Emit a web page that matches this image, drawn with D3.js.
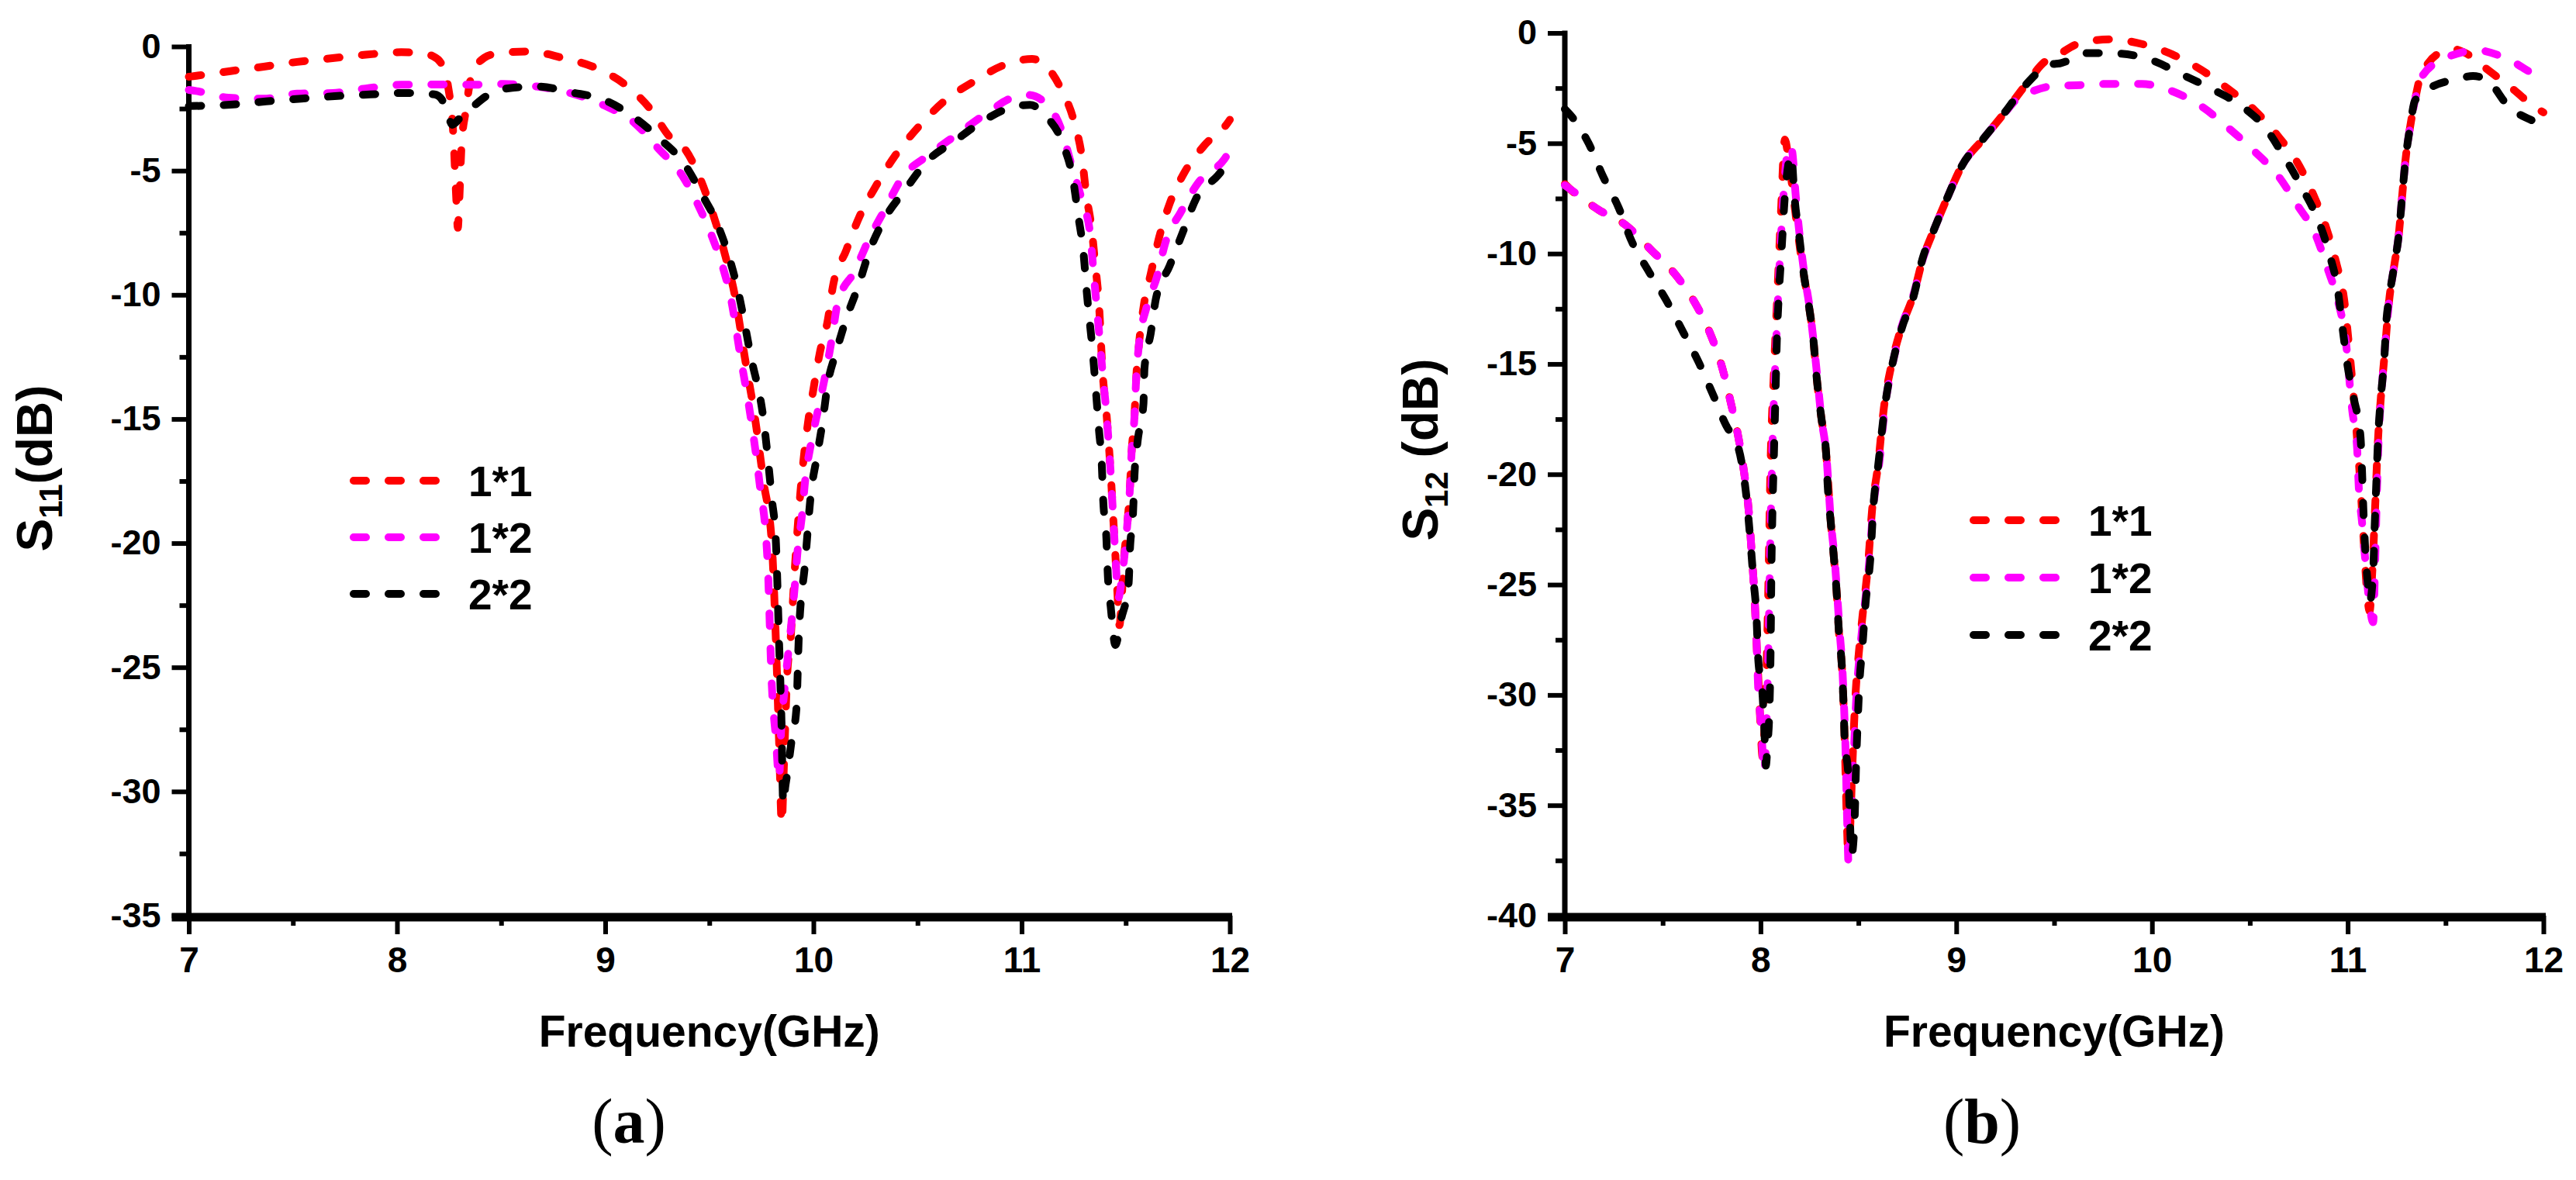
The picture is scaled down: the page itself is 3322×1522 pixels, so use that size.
<!DOCTYPE html>
<html><head><meta charset="utf-8">
<script src="https://cdn.jsdelivr.net/npm/d3@7"></script>
<style>html,body{margin:0;padding:0;background:#fff}svg{display:block}</style>
</head><body>
<svg id="chart" width="3322" height="1522"></svg>
<script>
// ---------- data ----------
const seriesNames = ["1*1", "1*2", "2*2"];
const seriesColors = ["#ff0000", "#ff00ff", "#000000"];
const xTicks = [7, 8, 9, 10, 11, 12];
const xMinorTicks = [7.5, 8.5, 9.5, 10.5, 11.5];
const yTicksA = [0, -5, -10, -15, -20, -25, -30, -35];
const yTicksB = [0, -5, -10, -15, -20, -25, -30, -35, -40];

// Panel (a): S11 (dB) vs frequency (GHz)
const s11_1x1 = [[7.0,-1.22],[7.2,-0.99],[7.36,-0.81],[7.52,-0.62],[7.69,-0.47],[7.85,-0.33],[8.02,-0.23],[8.12,-0.27],[8.17,-0.38],[8.21,-0.65],[8.245,-1.6],[8.27,-3.5],[8.285,-6.2],[8.292,-7.3],[8.3,-6.0],[8.31,-3.96],[8.33,-2.6],[8.36,-1.1],[8.42,-0.45],[8.47,-0.3],[8.63,-0.2],[8.8,-0.47],[8.96,-0.88],[9.1,-1.56],[9.22,-2.55],[9.31,-3.64],[9.38,-4.1],[9.45,-5.2],[9.51,-6.56],[9.58,-8.53],[9.622,-10],[9.67,-12.5],[9.72,-15],[9.76,-17.5],[9.8,-20],[9.82,-24],[9.835,-28],[9.848,-31.3],[9.858,-29],[9.874,-25.3],[9.89,-23.9],[9.91,-21.1],[9.937,-18.0],[9.973,-15.2],[10.0,-13.8],[10.03,-12.36],[10.07,-10.97],[10.093,-9.68],[10.157,-8.22],[10.22,-6.87],[10.3,-5.62],[10.39,-4.42],[10.5,-3.28],[10.63,-2.19],[10.77,-1.41],[10.92,-0.73],[11.05,-0.5],[11.11,-0.73],[11.19,-1.72],[11.255,-3.12],[11.29,-4.48],[11.31,-5.93],[11.337,-7.39],[11.353,-8.74],[11.37,-10.2],[11.39,-13.26],[11.407,-14.73],[11.42,-16.2],[11.43,-17.5],[11.44,-19.0],[11.45,-20.45],[11.46,-22.0],[11.47,-23.3],[11.48,-22.3],[11.49,-20.8],[11.507,-19.3],[11.52,-17.8],[11.528,-16.36],[11.542,-14.9],[11.55,-13.4],[11.563,-12.04],[11.587,-10.41],[11.62,-9.16],[11.66,-7.7],[11.71,-6.35],[11.78,-5.1],[11.88,-3.96],[11.99,-3.07],[12.0,-2.95]];
const s11_1x2 = [[7.0,-1.75],[7.035,-1.79],[7.19,-2.06],[7.36,-2.1],[7.52,-1.9],[7.69,-1.87],[7.85,-1.69],[8.02,-1.54],[8.18,-1.53],[8.35,-1.54],[8.51,-1.51],[8.67,-1.61],[8.83,-1.87],[9.0,-2.39],[9.14,-3.07],[9.255,-4.11],[9.37,-5.2],[9.45,-6.45],[9.515,-7.7],[9.567,-8.95],[9.6,-10],[9.65,-12.5],[9.7,-15],[9.74,-17.5],[9.78,-20.8],[9.8,-25.7],[9.82,-27.9],[9.835,-29.5],[9.845,-27.5],[9.86,-26.0],[9.896,-23.06],[9.91,-21.76],[9.924,-20.3],[9.946,-18.8],[9.96,-17.5],[9.988,-16.0],[10.024,-14.56],[10.06,-13.1],[10.088,-11.79],[10.117,-10.3],[10.197,-9.06],[10.27,-7.7],[10.343,-6.56],[10.424,-5.31],[10.553,-4.37],[10.69,-3.54],[10.828,-2.71],[10.965,-2.03],[11.03,-1.95],[11.11,-2.24],[11.19,-3.33],[11.24,-4.79],[11.288,-6.14],[11.33,-7.6],[11.345,-9.06],[11.36,-10.41],[11.375,-11.79],[11.39,-13.26],[11.407,-14.73],[11.42,-16.2],[11.43,-17.5],[11.44,-19.0],[11.45,-20.45],[11.465,-22.2],[11.48,-21.5],[11.49,-20.8],[11.507,-19.3],[11.52,-17.8],[11.528,-16.36],[11.542,-14.9],[11.55,-13.4],[11.563,-12.04],[11.6,-10.5],[11.65,-9.27],[11.69,-7.91],[11.765,-6.66],[11.845,-5.52],[11.974,-4.53],[12.0,-4.2]];
const s11_2x2 = [[7.0,-2.4],[7.2,-2.34],[7.37,-2.21],[7.54,-2.1],[7.7,-2.0],[7.87,-1.93],[8.04,-1.87],[8.18,-1.93],[8.215,-2.13],[8.25,-2.9],[8.265,-3.15],[8.3,-2.9],[8.36,-2.45],[8.5,-1.72],[8.67,-1.61],[8.84,-1.85],[9.0,-2.17],[9.14,-2.86],[9.26,-3.7],[9.385,-4.79],[9.47,-6.04],[9.535,-7.08],[9.642,-10.0],[9.7,-12.5],[9.76,-15],[9.8,-18.2],[9.82,-20],[9.835,-24],[9.846,-27],[9.855,-30.5],[9.865,-29.8],[9.874,-29.3],[9.896,-27.9],[9.918,-26.7],[9.93,-23.7],[9.96,-20.8],[9.988,-18.0],[10.017,-16.5],[10.045,-15.05],[10.067,-13.67],[10.11,-12.28],[10.16,-10.9],[10.214,-9.68],[10.27,-8.22],[10.343,-6.92],[10.44,-5.78],[10.545,-4.63],[10.68,-3.8],[10.82,-2.97],[10.973,-2.4],[11.04,-2.35],[11.118,-2.81],[11.2,-3.96],[11.248,-5.41],[11.272,-6.82],[11.296,-8.22],[11.314,-10.0],[11.343,-12.45],[11.357,-13.9],[11.371,-15.4],[11.385,-16.85],[11.392,-18.3],[11.407,-19.8],[11.414,-21.3],[11.428,-22.57],[11.45,-24.1],[11.478,-23.06],[11.514,-21.6],[11.52,-20.3],[11.535,-18.8],[11.542,-17.26],[11.557,-15.9],[11.585,-14.4],[11.59,-12.95],[11.62,-11.55],[11.645,-10.15],[11.71,-8.85],[11.773,-7.5],[11.837,-6.14],[11.942,-5.2],[12.0,-4.6]];

// Panel (b): S12 (dB) vs frequency (GHz)
const s12_1x1 = [[7.0,-6.85],[7.025,-7.06],[7.17,-8.0],[7.31,-8.7],[7.445,-9.87],[7.574,-11.05],[7.664,-12.22],[7.737,-13.5],[7.81,-15.36],[7.85,-16.83],[7.882,-18.1],[7.914,-19.8],[7.939,-21.6],[7.955,-23.6],[7.97,-25.7],[7.98,-27.7],[7.99,-29.5],[8.0,-31.4],[8.01,-32.8],[8.02,-31.5],[8.03,-29],[8.04,-25],[8.05,-20],[8.07,-15],[8.09,-11],[8.105,-8],[8.124,-4.83],[8.14,-5.5],[8.165,-7.2],[8.19,-9],[8.22,-10.9],[8.246,-12.3],[8.27,-13.9],[8.286,-15.55],[8.31,-17.4],[8.335,-19.04],[8.359,-22.2],[8.375,-23.8],[8.39,-25.5],[8.4,-27.1],[8.416,-28.8],[8.424,-30.4],[8.43,-32.1],[8.44,-35.5],[8.447,-37.0],[8.455,-36.5],[8.47,-33],[8.485,-30],[8.5,-28.3],[8.52,-26.5],[8.55,-24],[8.57,-21.6],[8.6,-19.6],[8.63,-17.0],[8.67,-15.0],[8.72,-13.34],[8.78,-11.9],[8.83,-10.22],[8.885,-8.94],[8.957,-7.41],[9.03,-6.0],[9.135,-4.83],[9.248,-3.6],[9.353,-2.37],[9.459,-1.26],[9.504,-1.08],[9.62,-0.5],[9.783,-0.29],[9.948,-0.5],[10.103,-0.97],[10.251,-1.67],[10.391,-2.55],[10.523,-3.49],[10.637,-4.6],[10.744,-5.89],[10.826,-7.36],[10.892,-8.88],[10.941,-10.4],[10.982,-12.1],[11.01,-14.5],[11.04,-17.5],[11.065,-20.5],[11.085,-23.5],[11.1,-25.5],[11.112,-26.2],[11.125,-24.5],[11.14,-21.5],[11.155,-18.4],[11.17,-16.45],[11.188,-14.6],[11.212,-12.1],[11.237,-10.58],[11.262,-9.05],[11.278,-7.41],[11.295,-5.77],[11.319,-4.25],[11.343,-3.08],[11.37,-2.0],[11.41,-1.38],[11.47,-0.9],[11.54,-0.73],[11.6,-0.9],[11.689,-1.49],[11.836,-2.49],[11.968,-3.43],[12.0,-3.6]];
const s12_1x2 = [[7.0,-6.9],[7.025,-7.06],[7.17,-8.0],[7.31,-8.7],[7.445,-9.87],[7.574,-11.05],[7.664,-12.22],[7.737,-13.5],[7.81,-15.36],[7.85,-16.83],[7.882,-18.1],[7.914,-19.8],[7.939,-21.6],[7.955,-23.6],[7.97,-25.7],[7.98,-27.7],[7.987,-29.5],[8.003,-31.4],[8.019,-33.5],[8.03,-31.5],[8.04,-28],[8.05,-23],[8.06,-19],[8.08,-14],[8.1,-10],[8.12,-7],[8.145,-5.1],[8.16,-5.3],[8.18,-7.4],[8.2,-9.2],[8.225,-11],[8.25,-12.4],[8.27,-13.9],[8.29,-15.6],[8.31,-17.4],[8.335,-19.0],[8.36,-22.2],[8.378,-23.8],[8.392,-25.5],[8.404,-27.1],[8.418,-28.8],[8.426,-30.4],[8.433,-32.1],[8.442,-35.5],[8.45,-37.7],[8.46,-36.5],[8.475,-33],[8.49,-30],[8.505,-28.3],[8.525,-26.5],[8.555,-24],[8.575,-21.6],[8.605,-19.6],[8.635,-17],[8.675,-15],[8.72,-13.34],[8.78,-11.9],[8.83,-10.22],[8.885,-8.94],[8.957,-7.41],[9.03,-6.0],[9.135,-4.83],[9.25,-3.6],[9.3,-3.08],[9.4,-2.61],[9.5,-2.4],[9.611,-2.37],[9.783,-2.31],[9.948,-2.31],[10.112,-2.67],[10.26,-3.37],[10.391,-4.31],[10.523,-5.36],[10.645,-6.48],[10.744,-7.82],[10.834,-9.11],[10.9,-10.75],[10.949,-12.1],[10.99,-13.95],[11.023,-17.1],[11.048,-18.8],[11.056,-20.5],[11.073,-22.15],[11.089,-23.8],[11.11,-25.8],[11.13,-26.7],[11.14,-24],[11.15,-20.5],[11.16,-18],[11.175,-16],[11.19,-14.3],[11.212,-12.1],[11.237,-10.58],[11.262,-9.05],[11.278,-7.41],[11.295,-5.77],[11.319,-4.25],[11.35,-2.8],[11.376,-2.02],[11.5,-1.14],[11.664,-0.79],[11.82,-1.2],[11.968,-1.96],[12.0,-2.1]];
const s12_2x2 = [[7.0,-3.45],[7.04,-3.84],[7.122,-5.01],[7.194,-6.48],[7.276,-7.94],[7.34,-9.41],[7.429,-10.81],[7.52,-12.14],[7.607,-13.6],[7.688,-15.0],[7.761,-16.47],[7.834,-17.94],[7.866,-18.3],[7.906,-19.6],[7.93,-21.2],[7.947,-22.9],[7.963,-24.7],[7.98,-26.6],[7.987,-28.2],[8.011,-30.1],[8.02,-31.7],[8.027,-33.2],[8.036,-32.2],[8.044,-31.0],[8.049,-29.3],[8.052,-27.5],[8.055,-24.7],[8.06,-22.0],[8.068,-19.2],[8.076,-16.5],[8.084,-13.7],[8.092,-12.1],[8.108,-9.76],[8.124,-7.41],[8.141,-6.0],[8.157,-5.54],[8.173,-7.41],[8.197,-9.17],[8.221,-10.93],[8.246,-12.3],[8.27,-13.9],[8.286,-15.55],[8.31,-17.4],[8.335,-19.04],[8.343,-20.5],[8.359,-22.2],[8.375,-23.8],[8.39,-25.5],[8.4,-27.1],[8.416,-28.8],[8.424,-30.4],[8.43,-32.1],[8.448,-33.6],[8.456,-35.4],[8.464,-37.3],[8.48,-35.8],[8.488,-33.2],[8.496,-31.3],[8.505,-29.5],[8.52,-27.86],[8.537,-25.8],[8.561,-23.8],[8.577,-21.4],[8.601,-19.6],[8.634,-17.0],[8.674,-15.0],[8.723,-13.34],[8.78,-12.0],[8.828,-10.22],[8.885,-8.94],[8.957,-7.41],[9.03,-6.0],[9.135,-4.83],[9.248,-3.6],[9.353,-2.37],[9.483,-1.43],[9.529,-1.38],[9.676,-0.91],[9.84,-0.94],[10.005,-1.26],[10.153,-1.88],[10.308,-2.55],[10.457,-3.31],[10.58,-4.31],[10.678,-5.65],[10.769,-7.06],[10.851,-8.53],[10.909,-10.1],[10.949,-11.63],[10.974,-13.4],[10.999,-15.07],[11.032,-16.6],[11.065,-18.26],[11.073,-19.8],[11.08,-21.6],[11.089,-23.3],[11.104,-25.1],[11.112,-25.8],[11.13,-24.4],[11.138,-22.3],[11.147,-20.2],[11.155,-18.4],[11.17,-16.45],[11.188,-14.6],[11.196,-13.25],[11.212,-12.0],[11.237,-10.58],[11.262,-9.05],[11.278,-7.41],[11.295,-5.77],[11.319,-4.25],[11.343,-3.08],[11.41,-2.55],[11.565,-2.08],[11.64,-1.95],[11.713,-2.14],[11.82,-3.31],[11.968,-4.07],[12.0,-4.2]];

// ---------- drawing ----------
const svg = d3.select("#chart");
svg.append("rect").attr("width", 3322).attr("height", 1522).attr("fill", "#fff");
const SANS = "'Liberation Sans', Arial, sans-serif";
const SERIF = "'Liberation Serif', 'Times New Roman', serif";
const tickFmt = d => String(d);   // plain hyphen-minus like the original

function drawPanel(cfg) {
  const g = svg.append("g");
  const x = d3.scaleLinear().domain([7, 12]).range([cfg.x0, cfg.x1]);
  const y = d3.scaleLinear().domain([cfg.yMin, 0]).range([cfg.yBottom, cfg.yTop]);
  const yMinor = d3.range(cfg.yMin + 2.5, 0, 5);

  // y axis
  const yAx = g.append("g").attr("transform", `translate(${cfg.x0},0)`);
  yAx.call(d3.axisLeft(y).tickValues(cfg.yTicks).tickSize(22).tickSizeOuter(0).tickPadding(14).tickFormat(tickFmt));
  yAx.select(".domain").remove();
  yAx.selectAll(".tick line").attr("stroke", "#000").attr("stroke-width", 6);
  yAx.selectAll(".tick text").attr("font-family", SANS).attr("font-weight", "bold").attr("font-size", 45).attr("fill", "#000");
  const yAxMin = g.append("g").attr("transform", `translate(${cfg.x0},0)`);
  yAxMin.call(d3.axisLeft(y).tickValues(yMinor).tickSize(12).tickSizeOuter(0).tickFormat(""));
  yAxMin.select(".domain").remove();
  yAxMin.selectAll(".tick line").attr("stroke", "#000").attr("stroke-width", 6);
  g.append("line").attr("x1", cfg.x0).attr("x2", cfg.x0).attr("y1", y(0) - 3).attr("y2", y(cfg.yMin))
    .attr("stroke", "#000").attr("stroke-width", 7);

  // x axis
  const xAx = g.append("g").attr("transform", `translate(0,${y(cfg.yMin)})`);
  xAx.call(d3.axisBottom(x).tickValues(xTicks).tickSize(24).tickSizeOuter(0).tickPadding(16).tickFormat(tickFmt));
  xAx.select(".domain").remove();
  xAx.selectAll(".tick line").attr("stroke", "#000").attr("stroke-width", 6);
  xAx.selectAll(".tick text").attr("font-family", SANS).attr("font-weight", "bold").attr("font-size", 46).attr("fill", "#000");
  const xAxMin = g.append("g").attr("transform", `translate(0,${y(cfg.yMin)})`);
  xAxMin.call(d3.axisBottom(x).tickValues(xMinorTicks).tickSize(13).tickSizeOuter(0).tickFormat(""));
  xAxMin.select(".domain").remove();
  xAxMin.selectAll(".tick line").attr("stroke", "#000").attr("stroke-width", 6);
  g.append("line").attr("x1", cfg.x0 - 22).attr("x2", cfg.x1 + 3).attr("y1", y(cfg.yMin) + 2).attr("y2", y(cfg.yMin) + 2)
    .attr("stroke", "#000").attr("stroke-width", 11);

  // curves
  const line = d3.line().x(d => x(d[0])).y(d => y(d[1])).curve(d3.curveMonotoneX);
  cfg.series.forEach((s, i) => {
    g.append("path").attr("d", line(s)).attr("fill", "none")
      .attr("stroke", seriesColors[i]).attr("stroke-width", 10)
      .attr("stroke-dasharray", "16,29").attr("stroke-linecap", "round");
  });

  // legend
  seriesNames.forEach((name, i) => {
    const ly = cfg.legY + i * cfg.legStep;
    g.append("line").attr("x1", cfg.legX).attr("x2", cfg.legX + 112).attr("y1", ly).attr("y2", ly)
      .attr("stroke", seriesColors[i]).attr("stroke-width", 10)
      .attr("stroke-dasharray", "16,29").attr("stroke-linecap", "round");
    g.append("text").attr("x", cfg.legX + 148).attr("y", ly + 20).text(name)
      .attr("font-family", SANS).attr("font-weight", "bold").attr("font-size", 55).attr("fill", "#000");
  });

  // axis titles
  g.append("text").attr("x", (cfg.x0 + cfg.x1) / 2).attr("y", 1350).attr("text-anchor", "middle")
    .attr("font-family", SANS).attr("font-weight", "bold").attr("font-size", 57).attr("fill", "#000")
    .text("Frequency(GHz)");
  const yt = g.append("text").attr("transform", `translate(${cfg.yTitleX},${cfg.yTitleY}) rotate(-90)`)
    .attr("text-anchor", "middle").attr("dy", "0.36em")
    .attr("font-family", SANS).attr("font-weight", "bold").attr("font-size", 64).attr("fill", "#000");
  yt.append("tspan").text("S");
  yt.append("tspan").attr("font-size", 42).attr("dy", 13).text(cfg.yTitleSub);
  yt.append("tspan").attr("dy", -13).text(cfg.yTitleRest);

  // caption
  const cap = g.append("text").attr("x", cfg.capX).attr("y", 1474).attr("text-anchor", "middle")
    .attr("font-family", SERIF).attr("font-size", 82).attr("fill", "#000");
  cap.append("tspan").text("(");
  cap.append("tspan").attr("font-weight", "bold").text(cfg.capLetter);
  cap.append("tspan").text(")");
}

drawPanel({
  x0: 243.5, x1: 1586, yTop: 60, yBottom: 1181, yMin: -35, yTicks: yTicksA,
  series: [s11_1x1, s11_1x2, s11_2x2],
  legX: 456, legY: 620, legStep: 73,
  yTitleX: 44, yTitleY: 604, yTitleSub: "11", yTitleRest: "(dB)",
  capX: 811, capLetter: "a"
});
drawPanel({
  x0: 2018, x1: 3280, yTop: 42.5, yBottom: 1181, yMin: -40, yTicks: yTicksB,
  series: [s12_1x1, s12_1x2, s12_2x2],
  legX: 2545, legY: 671, legStep: 74,
  yTitleX: 1831, yTitleY: 580, yTitleSub: "12", yTitleRest: " (dB)",
  capX: 2556, capLetter: "b"
});
</script>
</body></html>
